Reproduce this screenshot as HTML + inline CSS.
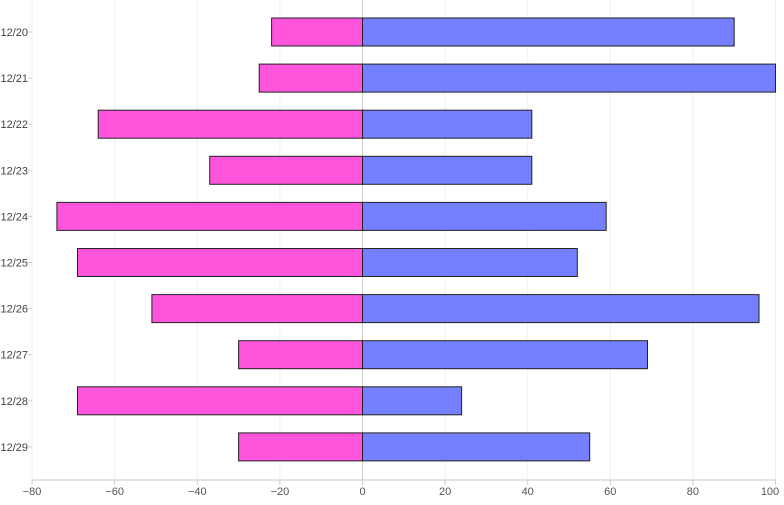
<!DOCTYPE html>
<html><head><meta charset="utf-8"><style>body{margin:0;background:#fff}</style></head><body>
<svg width="784" height="500" xmlns="http://www.w3.org/2000/svg" font-family="Liberation Sans, sans-serif">
<g stroke="#eef0f3">
<line x1="32.1" y1="0" x2="32.1" y2="480"/><line x1="114.7" y1="0" x2="114.7" y2="480"/><line x1="197.3" y1="0" x2="197.3" y2="480"/><line x1="279.9" y1="0" x2="279.9" y2="480"/><line x1="445.1" y1="0" x2="445.1" y2="480"/><line x1="527.7" y1="0" x2="527.7" y2="480"/><line x1="610.3" y1="0" x2="610.3" y2="480"/><line x1="692.9" y1="0" x2="692.9" y2="480"/><line x1="775.5" y1="0" x2="775.5" y2="480"/>
</g>
<line x1="362.5" y1="0" x2="362.5" y2="480" stroke="#ccc"/>
<line x1="32" y1="480" x2="776" y2="480" stroke="#d5d8dc" stroke-width="1.5"/>
<g stroke="#ccc">
<line x1="32.1" y1="480" x2="32.1" y2="485"/><line x1="114.7" y1="480" x2="114.7" y2="485"/><line x1="197.3" y1="480" x2="197.3" y2="485"/><line x1="279.9" y1="480" x2="279.9" y2="485"/><line x1="362.5" y1="480" x2="362.5" y2="485"/><line x1="445.1" y1="480" x2="445.1" y2="485"/><line x1="527.7" y1="480" x2="527.7" y2="485"/><line x1="610.3" y1="480" x2="610.3" y2="485"/><line x1="692.9" y1="480" x2="692.9" y2="485"/><line x1="775.5" y1="480" x2="775.5" y2="485"/>
</g>
<g font-size="11" fill="#555" text-anchor="middle">
<text x="32.1" y="495">−80</text><text x="114.7" y="495">−60</text><text x="197.3" y="495">−40</text><text x="279.9" y="495">−20</text><text x="362.5" y="495">0</text><text x="445.1" y="495">20</text><text x="527.7" y="495">40</text><text x="610.3" y="495">60</text><text x="692.9" y="495">80</text><text x="770" y="495">100</text>
</g>
<g fill="#ff55dd" stroke="#222">
<rect x="271.6" y="18" width="90.9" height="28"/>
<rect x="259.2" y="64.1" width="103.3" height="28"/>
<rect x="98.2" y="110.2" width="264.3" height="28"/>
<rect x="209.7" y="156.3" width="152.8" height="28"/>
<rect x="56.9" y="202.4" width="305.6" height="28"/>
<rect x="77.5" y="248.5" width="285" height="28"/>
<rect x="151.9" y="294.6" width="210.6" height="28"/>
<rect x="238.6" y="340.7" width="123.9" height="28"/>
<rect x="77.5" y="386.8" width="285" height="28"/>
<rect x="238.6" y="432.9" width="123.9" height="28"/>
</g>
<g fill="#7480ff" stroke="#222">
<rect x="362.5" y="18" width="371.7" height="28"/>
<rect x="362.5" y="64.1" width="413" height="28"/>
<rect x="362.5" y="110.2" width="169.3" height="28"/>
<rect x="362.5" y="156.3" width="169.3" height="28"/>
<rect x="362.5" y="202.4" width="243.7" height="28"/>
<rect x="362.5" y="248.5" width="214.8" height="28"/>
<rect x="362.5" y="294.6" width="396.5" height="28"/>
<rect x="362.5" y="340.7" width="285" height="28"/>
<rect x="362.5" y="386.8" width="99.1" height="28"/>
<rect x="362.5" y="432.9" width="227.2" height="28"/>
</g>
<g stroke="#ccc">
<line x1="28" y1="32" x2="32" y2="32"/><line x1="28" y1="78.1" x2="32" y2="78.1"/><line x1="28" y1="124.2" x2="32" y2="124.2"/><line x1="28" y1="170.3" x2="32" y2="170.3"/><line x1="28" y1="216.4" x2="32" y2="216.4"/><line x1="28" y1="262.5" x2="32" y2="262.5"/><line x1="28" y1="308.6" x2="32" y2="308.6"/><line x1="28" y1="354.7" x2="32" y2="354.7"/><line x1="28" y1="400.8" x2="32" y2="400.8"/><line x1="28" y1="446.9" x2="32" y2="446.9"/>
</g>
<g font-size="11" fill="#444" text-anchor="end">
<text x="28" y="36">12/20</text><text x="28" y="82.1">12/21</text><text x="28" y="128.2">12/22</text><text x="28" y="174.3">12/23</text><text x="28" y="220.4">12/24</text><text x="28" y="266.5">12/25</text><text x="28" y="312.6">12/26</text><text x="28" y="358.7">12/27</text><text x="28" y="404.8">12/28</text><text x="28" y="450.9">12/29</text>
</g>
</svg>
</body></html>
